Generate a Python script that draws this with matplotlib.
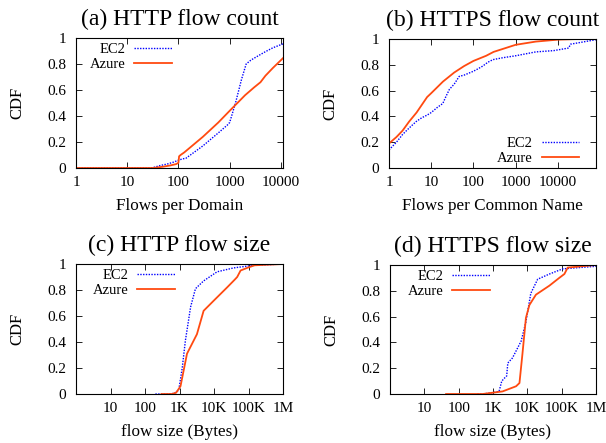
import numpy as np
import matplotlib
matplotlib.use("Agg")
from matplotlib import pyplot as plt
import matplotlib.ticker as mticker

plt.rcParams['font.family'] = ['Liberation Serif', 'DejaVu Serif']
plt.rcParams['font.size'] = 11

BLUE = "#0000ff"
ORANGE = "#ff4a10"

# (a) HTTP flow count -- flows per domain
a_ec2_x = [1, 30, 45, 60, 80, 100, 120, 140, 300, 600, 900, 1000, 1300, 1700, 2100, 2600, 3500, 5000, 7000, 11000]
a_ec2_y = [0, 0, 0.02, 0.03, 0.045, 0.06, 0.07, 0.075, 0.17, 0.27, 0.33, 0.35, 0.50, 0.68, 0.80, 0.83, 0.86, 0.895, 0.925, 0.955]
a_az_x = [1, 32, 50, 70, 90, 100, 103, 110, 130, 300, 600, 1000, 1500, 2000, 3000, 4000, 5000, 7000, 11000]
a_az_y = [0, 0, 0.01, 0.02, 0.03, 0.04, 0.09, 0.10, 0.12, 0.24, 0.35, 0.44, 0.51, 0.56, 0.62, 0.66, 0.71, 0.77, 0.845]

# (b) HTTPS flow count -- flows per common name
b_ec2_x = [1, 1.5, 2.1, 3, 4.4, 6, 8, 10, 14, 18.8, 22, 27, 35, 46, 60, 100, 130, 166, 220, 290, 500, 1000, 3000, 8000, 18000, 20000, 30000, 80000]
b_ec2_y = [0.14, 0.20, 0.26, 0.31, 0.36, 0.39, 0.41, 0.43, 0.47, 0.50, 0.55, 0.61, 0.65, 0.71, 0.72, 0.75, 0.77, 0.79, 0.82, 0.84, 0.855, 0.87, 0.90, 0.91, 0.93, 0.96, 0.97, 0.995]
b_az_x = [1, 1.5, 2.1, 3, 4.5, 6, 8, 10, 19, 35, 60, 100, 200, 300, 1000, 3000, 10000, 30000, 80000]
b_az_y = [0.19, 0.24, 0.29, 0.36, 0.43, 0.49, 0.55, 0.58, 0.67, 0.74, 0.79, 0.83, 0.87, 0.90, 0.955, 0.98, 0.995, 1.0, 1.0]

# (c) HTTP flow size (bytes)
c_ec2_x = [200, 500, 700, 950, 1200, 1480, 2100, 2900, 5000, 12300, 37000, 140000, 1000000]
c_ec2_y = [0, 0, 0.005, 0.03, 0.20, 0.41, 0.67, 0.81, 0.87, 0.94, 0.97, 0.99, 1.0]
c_az_x = [300, 600, 800, 1070, 1650, 3200, 5000, 10000, 24000, 40000, 47000, 59000, 91000, 150000, 1000000]
c_az_y = [0, 0, 0.01, 0.06, 0.31, 0.46, 0.64, 0.72, 0.82, 0.88, 0.90, 0.95, 0.97, 0.99, 1.0]

# (d) HTTPS flow size (bytes)
d_ec2_x = [350, 500, 980, 1500, 1800, 2100, 2500, 2700, 3700, 6600, 9100, 12600, 20000, 44000, 107000, 1000000]
d_ec2_y = [0, 0, 0.01, 0.02, 0.10, 0.12, 0.14, 0.24, 0.28, 0.41, 0.56, 0.78, 0.89, 0.93, 0.97, 0.99]
d_az_x = [43, 500, 1900, 4700, 5900, 7200, 9100, 11500, 17800, 44000, 85000, 120000, 150000, 1000000]
d_az_y = [0, 0, 0.02, 0.06, 0.085, 0.31, 0.59, 0.69, 0.77, 0.84, 0.90, 0.93, 0.98, 1.0]

count_ticks = [1, 10, 100, 1000, 10000]
count_labels = ["1", "10", "100", "1000", "10000"]
size_ticks = [10, 100, 1e3, 1e4, 1e5, 1e6]
size_labels = ["10", "100", "1K", "10K", "100K", "1M"]

panels = [
    ("(a) HTTP flow count", "Flows per Domain", a_ec2_x, a_ec2_y, a_az_x, a_az_y,
     (1, 11000), count_ticks, count_labels, ("upper right", (0.464, 0.96))),
    ("(b) HTTPS flow count", "Flows per Common Name", b_ec2_x, b_ec2_y, b_az_x, b_az_y,
     (1, 80000), count_ticks, count_labels, ("lower right", (0.92, 0.02))),
    ("(c) HTTP flow size", "flow size (Bytes)", c_ec2_x, c_ec2_y, c_az_x, c_az_y,
     (1, 1e6), size_ticks, size_labels, ("upper right", (0.478, 0.965))),
    ("(d) HTTPS flow size", "flow size (Bytes)", d_ec2_x, d_ec2_y, d_az_x, d_az_y,
     (1, 1e6), size_ticks, size_labels, ("upper right", (0.485, 0.965))),
]

fig = plt.figure(figsize=(6.06, 4.43), dpi=100)
# axes boxes in pixels (left, top, right, bottom)
boxes = [(76, 38, 283, 168), (389, 39, 596, 168), (76, 264, 283, 394), (390, 265, 596, 394)]
W, H = 606, 443

for (title, xlabel, ex, ey, zx, zy, xlim, ticks, ticklabels, (loc, anchor)), (l, t, r, b) in zip(panels, boxes):
    ax = fig.add_axes([l / W, 1 - b / H, (r - l) / W, (b - t) / H])
    ax.plot(ex, ey, color=BLUE, lw=1.0, ls=(0, (1, 1)), label="EC2")
    ax.plot(zx, zy, color=ORANGE, lw=1.3, label="Azure")
    ax.set_xscale("log")
    ax.set_xlim(*xlim)
    ax.set_ylim(0, 1)
    ax.set_xticks(ticks)
    ax.set_xticklabels(ticklabels)
    ax.xaxis.set_minor_locator(mticker.LogLocator(subs=np.arange(2, 10)))
    ax.xaxis.set_minor_formatter(mticker.NullFormatter())
    ax.set_yticks([0, 0.2, 0.4, 0.6, 0.8, 1])
    ax.set_yticklabels(["0", "0.2", "0.4", "0.6", "0.8", "1"])
    ax.tick_params(which="both", direction="in", top=True, right=True, labelsize=11)
    ax.tick_params(axis="y", pad=7)
    ax.tick_params(axis="x", pad=6)
    ax.tick_params(which="major", length=4, width=0.6)
    ax.tick_params(which="minor", length=2, width=0.5)
    for s in ax.spines.values():
        s.set_linewidth(0.8)
    ax.set_xlabel(xlabel, fontsize=12.3, labelpad=6)
    ax.set_ylabel("CDF", fontsize=12, labelpad=16)
    ax.set_title(title, fontsize=17, pad=9)
    leg = ax.legend(loc=loc, bbox_to_anchor=anchor, markerfirst=False, frameon=False,
                    fontsize=10.5, handlelength=2.6, handletextpad=0.6,
                    labelspacing=0.12, borderpad=0, borderaxespad=0)
    for txt in leg.get_texts():
        txt.set_ha("right")

fig.savefig("out.png", dpi=100)
